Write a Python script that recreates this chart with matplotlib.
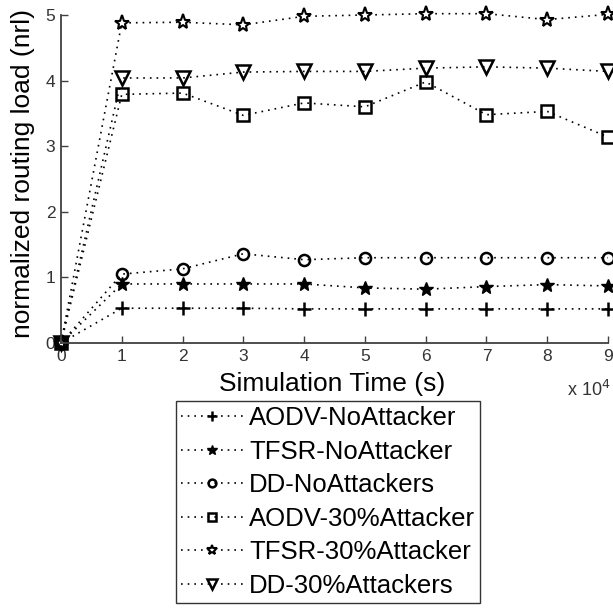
import matplotlib
matplotlib.use("Agg")
import matplotlib.pyplot as plt

plt.rcParams['font.family'] = ['Liberation Sans', 'DejaVu Sans']

# simulation time in units of 10^4 s
sim_time = [0, 1, 2, 3, 4, 5, 6, 7, 8, 9]

aodv_no = [0, 0.53, 0.53, 0.53, 0.52, 0.52, 0.52, 0.52, 0.52, 0.52]
tfsr_no = [0, 0.90, 0.90, 0.90, 0.90, 0.84, 0.82, 0.86, 0.89, 0.87]
dd_no = [0, 1.05, 1.13, 1.36, 1.27, 1.30, 1.30, 1.30, 1.30, 1.30]
aodv_30 = [0, 3.79, 3.81, 3.47, 3.66, 3.60, 3.98, 3.48, 3.53, 3.14]
tfsr_30 = [0, 4.88, 4.89, 4.85, 4.98, 5.00, 5.02, 5.02, 4.93, 5.01]
dd_30 = [0, 4.04, 4.04, 4.13, 4.14, 4.14, 4.19, 4.21, 4.19, 4.14]

labels = ["AODV-NoAttacker", "TFSR-NoAttacker", "DD-NoAttackers",
          "AODV-30%Attacker", "TFSR-30%Attacker", "DD-30%Attackers"]

fig = plt.figure(figsize=(6.13, 6.12), dpi=100)
ax = fig.add_axes([61 / 613, 1 - 343 / 612, 547 / 613, 328 / 612])

styles = [
    (aodv_no, dict(marker='+', ms=10, mew=1.8, mfc='k')),
    (tfsr_no, dict(marker='*', ms=10, mew=1.0, mfc='k')),
    (dd_no, dict(marker='o', ms=8, mew=1.8, mfc='none')),
    (aodv_30, dict(marker='s', ms=9, mew=1.8, mfc='none')),
    (tfsr_30, dict(marker='*', ms=11, mew=1.5, mfc='white')),
    (dd_30, dict(marker='v', ms=10, mew=1.8, mfc='none')),
]

# sparse dotted lines, like the original export
dotted = (0, (1, 3))
for (vals, st), lab in zip(styles, labels):
    ax.plot(sim_time, vals, linestyle=dotted, color='k', lw=1.2, mec='k',
            label=lab, clip_on=False, **st)

ax.set_xlim(0, 9)
ax.set_ylim(0, 5)
ax.set_xticks(range(10))
ax.set_yticks(range(6))
for s in ['top', 'right']:
    ax.spines[s].set_visible(False)
for s in ['left', 'bottom']:
    ax.spines[s].set_color('#404040')
    ax.spines[s].set_linewidth(1.3)
ax.tick_params(direction='in', length=5, width=1, color='#404040',
               labelsize=12.5, labelcolor='#333333', pad=4)

ax.set_ylabel("normalized routing load (nrl)", fontsize=19)
ax.yaxis.set_label_coords(-26 / 547, (343 - 173) / 328)
ax.set_xlabel("Simulation Time (s)", fontsize=19)
ax.xaxis.set_label_coords((332 - 61) / 547, -29 / 328)
fig.text(567 / 613, 1 - 390 / 612, r"x 10$^4$", fontsize=13, color='#333333',
         ha='left', va='center')

leg = ax.legend(loc='upper left', bbox_to_anchor=(176 / 613, 1 - 401 / 612),
                bbox_transform=fig.transFigure, fontsize=18.5, frameon=True,
                fancybox=False, edgecolor='k', handlelength=2.4,
                handletextpad=0.25, labelspacing=0.37, borderpad=0.2,
                borderaxespad=0, markerscale=0.7)
leg.get_frame().set_linewidth(1.0)

fig.savefig("out.png", dpi=100)
